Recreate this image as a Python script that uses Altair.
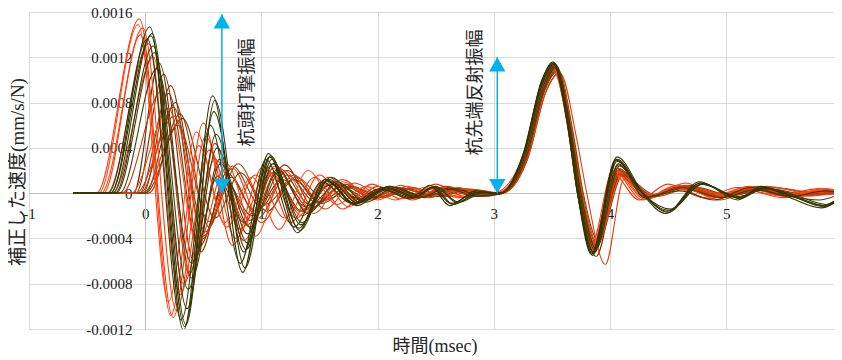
import altair as alt
import pandas as pd

# values below are in units of 1e-4 mm/s/N (converted with SCALE)
SCALE = 1e-4

R1 = [(-0.62,0),(-0.42,0),(-0.05,15.4),(0.24,-11.0),(0.5,6.2),(0.75,-4.6),(1.02,2.4),(1.25,-2.6),(1.5,1.6),(1.75,-1.2),(2.0,0.6),(2.25,-0.4),(2.5,0.8),(2.75,-0.3),(3.05,0.1),(3.25,3.0),(3.4,9.0),(3.5,11.0),(3.63,6.5),(3.72,0.0),(3.84,-4.6),(4.02,1.8),(4.25,-0.6),(4.5,0.8),(4.8,-0.4),(5.1,0.5),(5.45,-0.2),(5.8,0.4),(6.0,0.0)]
R2 = [(-0.62,0),(-0.38,0),(-0.02,14.6),(0.27,-10.4),(0.52,5.0),(0.78,-4.0),(1.05,2.0),(1.3,-2.2),(1.55,1.2),(1.8,-1.0),(2.05,0.4),(2.3,-0.6),(2.55,0.5),(2.8,-0.2),(3.05,0.0),(3.25,3.2),(3.4,9.3),(3.52,11.2),(3.64,6.0),(3.73,0.0),(3.86,-5.0),(4.05,2.0),(4.3,-0.4),(4.6,0.7),(4.9,-0.2),(5.2,0.6),(5.5,-0.1),(5.85,0.3),(6.0,0.1)]
R3 = [(-0.62,0),(-0.33,0),(0.03,13.2),(0.3,-9.0),(0.55,3.8),(0.82,-3.2),(1.08,1.8),(1.35,-2.0),(1.6,1.0),(1.85,-0.8),(2.1,0.5),(2.35,-0.3),(2.6,0.6),(2.85,-0.2),(3.05,0.0),(3.27,3.4),(3.42,9.6),(3.53,11.4),(3.65,6.0),(3.74,0.0),(3.87,-5.2),(4.07,2.2),(4.32,-0.5),(4.62,0.5),(4.95,-0.6),(5.25,0.4),(5.6,-0.3),(6.0,0.0)]
R4 = [(-0.62,0),(-0.28,0),(0.07,12.0),(0.33,-8.0),(0.6,3.0),(0.88,-2.8),(1.12,2.4),(1.4,-1.6),(1.7,1.2),(1.95,-0.6),(2.2,0.7),(2.45,-0.4),(2.7,0.5),(2.9,-0.3),(3.08,0.0),(3.28,3.0),(3.43,9.2),(3.54,11.0),(3.66,5.8),(3.75,0.0),(3.88,-4.8),(4.08,1.6),(4.35,-0.3),(4.65,0.9),(4.95,-0.3),(5.3,0.5),(5.65,-0.2),(6.0,0.2)]
R5 = [(-0.62,0),(-0.12,0),(0.2,7.5),(0.45,-4.5),(0.7,2.6),(0.95,-3.8),(1.2,2.0),(1.45,-1.8),(1.7,1.0),(2.0,-0.6),(2.25,0.6),(2.5,-0.2),(2.75,0.4),(3.05,0.0),(3.27,3.1),(3.43,9.4),(3.55,11.0),(3.67,5.6),(3.76,0.0),(3.89,-4.4),(4.1,1.5),(4.35,-0.2),(4.65,0.6),(5.0,-0.2),(5.35,0.6),(5.7,0.0),(6.0,0.3)]
R6 = [(-0.62,0),(-0.08,0),(0.25,6.8),(0.5,-3.8),(0.75,2.2),(1.0,-2.6),(1.28,1.6),(1.55,-1.4),(1.8,0.9),(2.05,-0.4),(2.3,0.5),(2.6,-0.3),(2.85,0.3),(3.07,0.0),(3.29,3.0),(3.45,9.0),(3.57,10.6),(3.71,5.0),(3.8,0.0),(3.96,-6.3),(4.12,1.2),(4.4,-0.3),(4.7,0.5),(5.0,-0.1),(5.4,0.5),(5.75,0.1),(6.0,0.2)]
R7 = [(-0.62,0),(-0.36,0),(-0.04,14.0),(0.22,-10.8),(0.46,4.2),(0.7,-3.0),(0.95,1.6),(1.2,-2.2),(1.46,1.4),(1.7,-1.4),(1.95,0.8),(2.2,-0.5),(2.45,0.4),(2.7,-0.4),(3.03,0.1),(3.25,3.3),(3.41,9.6),(3.51,11.3),(3.63,6.3),(3.72,0.0),(3.85,-4.8),(4.03,2.0),(4.28,-0.6),(4.55,0.6),(4.85,-0.5),(5.15,0.3),(5.5,-0.4),(5.85,0.3),(6.0,0.0)]
R8 = [(-0.62,0),(-0.4,0),(-0.06,14.9),(0.2,-9.6),(0.44,5.4),(0.68,-2.6),(0.92,1.4),(1.15,-3.2),(1.4,2.0),(1.65,-1.0),(1.9,0.6),(2.15,-0.6),(2.4,0.5),(2.7,-0.3),(3.04,0.0),(3.25,3.1),(3.41,9.4),(3.51,11.1),(3.63,6.2),(3.72,0.0),(3.85,-4.7),(4.04,1.9),(4.3,-0.5),(4.58,0.7),(4.88,-0.3),(5.18,0.5),(5.5,-0.3),(5.85,0.4),(6.0,0.1)]
R9 = [(-0.62,0),(-0.2,0),(0.14,9.0),(0.38,-7.2),(0.6,4.4),(0.85,-4.2),(1.1,2.2),(1.33,-1.6),(1.58,1.4),(1.82,-0.8),(2.08,0.5),(2.33,-0.5),(2.58,0.6),(2.82,-0.2),(3.06,0.0),(3.27,3.2),(3.43,9.5),(3.54,11.0),(3.66,5.8),(3.75,0.0),(3.88,-4.6),(4.07,1.7),(4.33,-0.4),(4.63,0.6),(4.97,-0.3),(5.28,0.6),(5.62,-0.2),(6.0,0.2)]

D1 = [(-0.62,0),(-0.3,0),(0.04,14.7),(0.33,-12.1),(0.58,8.6),(0.84,-7.0),(1.06,3.5),(1.31,-3.5),(1.55,1.2),(1.8,-1.0),(2.05,0.5),(2.3,-0.3),(2.45,0.7),(2.62,-1.1),(2.85,0.2),(3.05,-0.1),(3.25,3.4),(3.41,9.8),(3.51,11.6),(3.63,6.4),(3.72,0.0),(3.84,-5.4),(4.05,3.0),(4.25,0.3),(4.48,-1.8),(4.77,1.0),(5.1,-0.6),(5.3,0.6),(5.55,-0.4),(5.82,-1.3),(6.0,-0.2)]
D2 = [(-0.62,0),(-0.28,0),(0.06,14.1),(0.35,-11.6),(0.6,8.2),(0.86,-6.6),(1.08,3.3),(1.33,-3.3),(1.57,1.1),(1.82,-1.1),(2.1,0.6),(2.35,-0.2),(2.48,0.6),(2.65,-1.0),(2.88,0.1),(3.06,0.0),(3.26,3.5),(3.42,9.9),(3.52,11.5),(3.64,6.3),(3.73,0.0),(3.85,-5.5),(4.06,2.8),(4.27,0.2),(4.5,-1.7),(4.78,0.9),(5.12,-0.5),(5.32,0.5),(5.58,-0.3),(5.84,-1.2),(6.0,-0.3)]
D3 = [(-0.62,0),(-0.32,0),(0.02,13.6),(0.31,-11.2),(0.56,6.0),(0.82,-6.2),(1.04,3.0),(1.28,-3.0),(1.52,1.0),(1.78,-0.9),(2.02,0.4),(2.28,-0.5),(2.5,0.5),(2.7,-0.8),(2.9,0.0),(3.06,0.0),(3.26,3.4),(3.42,9.7),(3.52,11.4),(3.64,6.2),(3.73,0.0),(3.86,-5.2),(4.06,3.2),(4.3,-0.2),(4.52,-1.4),(4.8,0.8),(5.1,-0.3),(5.35,0.4),(5.6,-0.2),(5.86,-1.0),(6.0,-0.2)]
D4 = [(-0.62,0),(-0.25,0),(0.08,12.4),(0.37,-8.5),(0.62,4.0),(0.88,-4.4),(1.1,2.6),(1.35,-2.6),(1.6,1.4),(1.85,-0.8),(2.1,0.4),(2.35,-0.4),(2.6,0.4),(2.85,-0.3),(3.06,0.0),(3.27,3.3),(3.43,9.6),(3.53,11.3),(3.65,6.0),(3.74,0.0),(3.87,-5.0),(4.07,2.6),(4.3,-0.4),(4.6,0.2),(4.9,-0.6),(5.2,0.5),(5.5,-0.2),(5.8,-0.6),(6.0,0.0)]
D5 = [(-0.62,0),(-0.22,0),(0.1,11.0),(0.4,-6.2),(0.65,2.6),(0.9,-3.0),(1.15,2.0),(1.4,-1.8),(1.65,1.0),(1.9,-0.8),(2.15,0.5),(2.4,-0.3),(2.65,0.4),(2.9,-0.2),(3.07,0.0),(3.28,3.2),(3.44,9.5),(3.54,11.2),(3.66,5.8),(3.75,0.0),(3.88,-4.9),(4.08,2.4),(4.33,-0.3),(4.62,0.5),(4.95,-0.4),(5.25,0.3),(5.55,-0.3),(5.85,0.2),(6.0,0.0)]
D6 = [(-0.62,0),(-0.3,0),(0.05,13.9),(0.34,-11.8),(0.59,7.2),(0.85,-5.2),(1.07,3.2),(1.32,-3.1),(1.56,1.1),(1.8,-0.9),(2.05,0.3),(2.3,-0.4),(2.47,0.5),(2.63,-0.9),(2.86,0.1),(3.05,0.0),(3.26,3.5),(3.41,9.9),(3.51,11.5),(3.63,6.3),(3.72,0.0),(3.85,-5.3),(4.05,2.9),(4.27,0.1),(4.49,-1.6),(4.78,0.9),(5.1,-0.4),(5.33,0.5),(5.57,-0.3),(5.83,-1.1),(6.0,-0.1)]
D7 = [(-0.62,0),(-0.26,0),(0.07,13.0),(0.36,-10.2),(0.61,5.2),(0.87,-5.0),(1.09,3.0),(1.34,-2.8),(1.58,1.2),(1.83,-0.9),(2.08,0.5),(2.33,-0.3),(2.5,0.6),(2.68,-0.8),(2.9,0.1),(3.06,0.0),(3.26,3.4),(3.42,9.8),(3.52,11.5),(3.64,6.2),(3.73,0.0),(3.86,-5.3),(4.06,3.0),(4.28,0.0),(4.5,-1.5),(4.79,0.8),(5.11,-0.4),(5.34,0.4),(5.59,-0.3),(5.85,-1.1),(6.0,-0.2)]

B1 = [(-0.62,0),(-0.08,0),(0.16,10.5),(0.42,-6.0),(0.62,1.5),(0.85,-2.6),(1.1,2.6),(1.38,-1.2),(1.6,0.8),(1.85,-0.5),(2.1,0.6),(2.35,-0.3),(2.6,0.4),(2.85,-0.3),(3.06,0.0),(3.27,3.2),(3.43,9.4),(3.53,11.1),(3.65,6.0),(3.74,0.0),(3.87,-4.9),(4.07,2.2),(4.32,-0.4),(4.6,0.6),(4.9,-0.3),(5.2,0.4),(5.55,-0.3),(5.85,0.2),(6.0,0.0)]
B2 = [(-0.62,0),(-0.02,0),(0.22,9.5),(0.48,-5.2),(0.68,1.2),(0.92,-2.0),(1.15,2.2),(1.42,-1.0),(1.65,0.8),(1.9,-0.6),(2.15,0.5),(2.4,-0.4),(2.65,0.3),(2.9,-0.2),(3.07,0.0),(3.28,3.1),(3.44,9.3),(3.54,11.0),(3.66,5.9),(3.75,0.0),(3.88,-4.7),(4.08,2.0),(4.34,-0.3),(4.64,0.5),(4.95,-0.2),(5.3,0.5),(5.6,-0.2),(6.0,0.1)]
B3 = [(-0.62,0),(0.0,0),(0.26,8.0),(0.5,-4.0),(0.7,1.8),(0.95,-1.6),(1.2,2.5),(1.45,-1.2),(1.7,0.7),(1.95,-0.4),(2.2,0.5),(2.45,-0.2),(2.7,0.4),(2.92,-0.1),(3.07,0.0),(3.28,3.0),(3.44,9.1),(3.55,10.8),(3.67,5.7),(3.76,0.0),(3.89,-4.5),(4.1,1.8),(4.36,-0.2),(4.66,0.7),(5.0,-0.3),(5.35,0.4),(5.7,-0.1),(6.0,0.2)]
B4 = [(-0.62,0),(0.03,0),(0.3,7.0),(0.55,-3.0),(0.75,2.4),(1.0,-1.2),(1.22,2.0),(1.5,-0.8),(1.75,0.6),(2.0,-0.4),(2.25,0.4),(2.5,-0.3),(2.75,0.3),(3.07,0.0),(3.29,3.0),(3.45,9.0),(3.56,10.6),(3.68,5.5),(3.77,0.0),(3.9,-4.2),(4.11,1.6),(4.38,-0.1),(4.7,0.6),(5.05,-0.2),(5.4,0.5),(5.75,0.0),(6.0,0.2)]
B5 = [(-0.62,0),(-0.02,0),(0.28,6.0),(0.55,-2.5),(0.8,2.6),(1.03,-1.0),(1.3,1.4),(1.55,-0.6),(1.8,0.5),(2.05,-0.3),(2.3,0.4),(2.55,-0.2),(2.8,0.3),(3.06,0.0),(3.28,3.1),(3.44,9.2),(3.55,10.9),(3.67,5.7),(3.76,0.0),(3.89,-4.6),(4.09,1.9),(4.35,-0.3),(4.65,0.5),(4.98,-0.3),(5.3,0.4),(5.65,-0.2),(6.0,0.1)]
B6 = [(-0.62,0),(-0.1,0),(0.12,11.5),(0.4,-7.5),(0.64,3.0),(0.88,-3.6),(1.1,1.8),(1.35,-1.6),(1.6,0.8),(1.85,-0.6),(2.1,0.4),(2.35,-0.3),(2.6,0.5),(2.85,-0.3),(3.06,0.0),(3.27,3.3),(3.43,9.6),(3.53,11.3),(3.65,6.1),(3.74,0.0),(3.87,-5.1),(4.07,2.5),(4.31,-0.4),(4.6,0.5),(4.92,-0.4),(5.22,0.3),(5.55,-0.2),(5.9,0.2),(6.0,0.0)]
B7 = [(-0.62,0),(-0.05,0),(0.2,8.8),(0.46,-4.8),(0.7,1.0),(0.9,-2.4),(1.18,1.2),(1.42,-1.4),(1.68,0.6),(1.92,-0.5),(2.18,0.3),(2.42,-0.4),(2.68,0.2),(2.9,-0.3),(3.06,0.0),(3.27,3.2),(3.43,9.4),(3.53,11.1),(3.65,6.0),(3.74,0.0),(3.88,-5.6),(4.08,1.7),(4.33,-0.2),(4.62,0.4),(4.93,-0.3),(5.25,0.5),(5.6,-0.1),(6.0,0.1)]
B8 = [(-0.62,0),(0.0,0),(0.32,6.6),(0.6,-2.2),(0.82,1.8),(1.05,-1.6),(1.28,1.2),(1.52,-0.9),(1.78,0.6),(2.02,-0.4),(2.27,0.3),(2.52,-0.3),(2.78,0.3),(3.06,0.0),(3.28,3.1),(3.44,9.3),(3.55,10.9),(3.67,5.8),(3.76,0.0),(3.89,-4.4),(4.09,1.7),(4.36,-0.2),(4.67,0.5),(5.0,-0.3),(5.32,0.4),(5.66,-0.1),(6.0,0.1)]
B9 = [(-0.62,0),(-0.04,0),(0.24,7.6),(0.52,-3.4),(0.74,1.4),(0.97,-2.2),(1.22,1.6),(1.47,-0.8),(1.72,0.8),(1.97,-0.5),(2.22,0.4),(2.47,-0.3),(2.72,0.4),(2.95,-0.1),(3.07,0.0),(3.28,3.2),(3.44,9.4),(3.54,11.1),(3.66,5.9),(3.75,0.0),(3.88,-4.8),(4.08,2.1),(4.34,-0.3),(4.63,0.6),(4.96,-0.4),(5.27,0.4),(5.6,-0.2),(6.0,0.0)]

SERIES_NAMES = ["B1", "B2", "B3", "B4", "B5", "B6", "B7", "B8", "B9",
                "R1", "R2", "R3", "R4", "R5", "R6", "R7", "R8", "R9",
                "D1", "D2", "D3", "D4", "D5", "D6", "D7"]
SERIES_POINTS = [B1, B2, B3, B4, B5, B6, B7, B8, B9,
                 R1, R2, R3, R4, R5, R6, R7, R8, R9,
                 D1, D2, D3, D4, D5, D6, D7]
SERIES_COLORS = ["#7f2a00", "#8c3300", "#6e3500", "#9a3a05", "#a84510", "#5e3000", "#833000", "#7a3a05", "#964010",
                 "#ff3300", "#ff4000", "#f23a0a", "#e83c10", "#e4521a", "#d9400c", "#ff3a12", "#ff4a1a", "#cc3a0a",
                 "#2e3300", "#3a3a00", "#333b05", "#40400a", "#4a3a05", "#303000", "#383800"]

X_TICKS = [-1, 0, 1, 2, 3, 4, 5, 6]
Y_TICKS = [-0.0012, -0.0008, -0.0004, 0, 0.0004, 0.0008, 0.0012, 0.0016]

ARROW_T = [0.66, 3.03]
ARROW_TOP = [0.00158, 0.00120]
ARROW_BASE = [0.0, 0.0]
ANN_TEXT = ["杭頭打撃振幅", "杭先端反射振幅"]
ANN_T = [0.885, 2.85]
ANN_V = [0.00089, 0.00089]

X_TITLE = "時間(msec)"
Y_TITLE = "補正した速度(mm/s/N)"

rows = []
for name, pts in zip(SERIES_NAMES, SERIES_POINTS):
    for i, (t, v) in enumerate(pts):
        rows.append({"s": name, "t": t, "v": v * SCALE, "i": i})
df = pd.DataFrame(rows)

# plot area: 116.2 px per msec; the page clips the view just short of t = 6
PX_PER_MS = 116.2
W, H = 805, 317
X_MAX = -1 + W / PX_PER_MS
NUM_FONT = "Liberation Serif, Times New Roman"
JP_FONT = "Noto Sans CJK JP"
MIX_FONT = NUM_FONT + ", " + JP_FONT
GRID = "#d9d9d9"
CYAN = "#00b0f0"

xs = alt.Scale(domain=[-1, X_MAX], nice=False, zero=False)
ys = alt.Scale(domain=[-0.0012, 0.0016], nice=False, zero=False)

x_axis = alt.Axis(values=X_TICKS, offset=-136, title=None, grid=True, gridColor=GRID,
                  ticks=False, domainColor="#bfbfbf", labelPadding=13, labelFont=NUM_FONT,
                  labelFontSize=15, labelColor="#1a1a1a", labelFlush=False, labelOverlap=False,
                  labelExpr="datum.value < 0 ? '-' + abs(datum.value) : '' + datum.value")
y_axis = alt.Axis(values=Y_TICKS, offset=-116, title=None, grid=True, gridColor=GRID,
                  ticks=False, domainColor="#bfbfbf", labelPadding=13, labelFont=NUM_FONT,
                  labelFontSize=15, labelColor="#1a1a1a", labelFlush=False, labelOverlap=False,
                  labelExpr="datum.value == 0 ? '0' : (datum.value < 0 ? '-' : '') + format(abs(datum.value), '.4f')")

lines = alt.Chart(df).mark_line(strokeWidth=1.1, interpolate="monotone", clip=True).encode(
    x=alt.X("t:Q", scale=xs, axis=x_axis),
    y=alt.Y("v:Q", scale=ys, axis=y_axis),
    color=alt.Color("s:N", scale=alt.Scale(domain=SERIES_NAMES, range=SERIES_COLORS), legend=None),
    detail="s:N",
    order="i:Q",
)

arr = pd.DataFrame({"t": ARROW_T, "top": ARROW_TOP, "base": ARROW_BASE})
arrow_line = alt.Chart(arr).mark_rule(color=CYAN, strokeWidth=1.5).encode(
    x=alt.X("t:Q", scale=xs), y=alt.Y("top:Q", scale=ys), y2="base:Q")
arrow_up = alt.Chart(arr).mark_point(shape="triangle-up", filled=True, size=270, color=CYAN, opacity=1).encode(
    x=alt.X("t:Q", scale=xs), y=alt.Y("top:Q", scale=ys), yOffset=alt.value(7))
arrow_down = alt.Chart(arr).mark_point(shape="triangle-down", filled=True, size=270, color=CYAN, opacity=1).encode(
    x=alt.X("t:Q", scale=xs), y=alt.Y("base:Q", scale=ys), yOffset=alt.value(-7))

ann = pd.DataFrame({"t": ANN_T, "v": ANN_V, "label": ANN_TEXT})
ann_text = alt.Chart(ann).mark_text(angle=270, font=JP_FONT, fontSize=18, color="#262626",
                                    align="center", baseline="middle").encode(
    x=alt.X("t:Q", scale=xs), y=alt.Y("v:Q", scale=ys), text="label:N")

ytitle = alt.Chart(pd.DataFrame({"label": [Y_TITLE]})).mark_text(
    angle=270, font=MIX_FONT, fontSize=19, color="#262626",
    align="center", baseline="middle").encode(
    x=alt.value(-11), y=alt.value(160), text="label:N")
xtitle = alt.Chart(pd.DataFrame({"label": [X_TITLE]})).mark_text(
    font=MIX_FONT, fontSize=18, color="#262626",
    align="center", baseline="middle").encode(
    x=alt.value(406), y=alt.value(335), text="label:N")

chart = alt.layer(lines, arrow_line, arrow_up, arrow_down, ann_text, ytitle, xtitle).properties(
    width=W, height=H,
    autosize=alt.AutoSizeParams(type="none"),
    padding={"left": 21, "top": 4, "right": 0, "bottom": 27},
).configure_view(stroke=None).configure(background="white")

chart.save("out.html", embed_options={"renderer": "svg", "actions": False})
